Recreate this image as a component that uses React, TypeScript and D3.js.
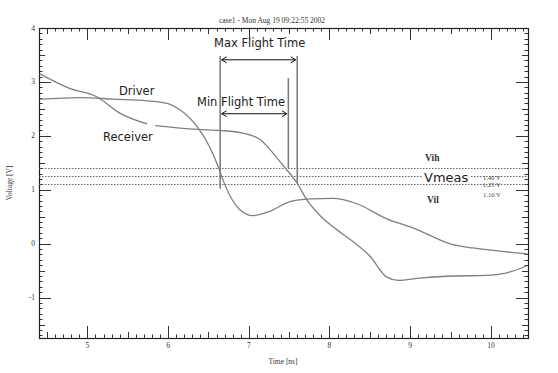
import React, { useRef, useEffect } from "react";
import * as d3 from "d3";

// waveform samples: time [ns], voltage [V]
const driverTime = [4.41, 4.91, 5.32, 5.74, 5.99, 6.15, 6.36, 6.52, 6.62, 6.67, 6.77, 6.89, 7.05, 7.26, 7.51, 7.76, 8.04, 8.34, 8.71, 9.04, 9.53, 9.78, 10.11, 10.45];
const driverVolt = [2.68, 2.71, 2.68, 2.65, 2.6, 2.48, 2.17, 1.78, 1.43, 1.22, 0.88, 0.63, 0.52, 0.6, 0.78, 0.83, 0.84, 0.74, 0.46, 0.29, -0.02, -0.08, -0.14, -0.19];

// null marks the small break in the receiver trace
const receiverTime = [4.41, 4.78, 5.12, 5.4, 5.74, 5.79, 5.84, 6.36, 6.64, 6.93, 7.14, 7.3, 7.42, 7.6, 7.72, 7.91, 8.09, 8.29, 8.5, 8.71, 8.85, 9.12, 9.53, 9.95, 10.2, 10.45];
const receiverVolt = [3.15, 2.88, 2.72, 2.42, 2.22, null, 2.19, 2.12, 2.1, 2.05, 1.93, 1.68, 1.46, 1.12, 0.81, 0.48, 0.26, 0.04, -0.23, -0.62, -0.68, -0.64, -0.6, -0.59, -0.54, -0.41];

// thresholds
const thresholdNames = ["Vih", "Vmeas", "Vil"];
const thresholdVolts = [1.4, 1.25, 1.1];
const thresholdLabels = ["1.40 V", "1.25 V", "1.10 V"];

// flight time markers [ns]
const flightStart = 6.645;
const minFlightEnd = 7.49;
const maxFlightEnd = 7.6;

const xTicks = [5, 6, 7, 8, 9, 10];
const yTicks = [-1, 0, 1, 2, 3, 4];

const W = 558;
const H = 373;
const serif = "'Liberation Serif', 'DejaVu Serif', serif";
const sans = "'DejaVu Sans', Verdana, sans-serif";

const Chart = () => {
  const svgRef = useRef(null);

  useEffect(() => {
    const svg = d3.select(svgRef.current);
    svg.selectAll("*").remove();

    const left = 39, right = 528, top = 28, bottom = 338;
    const x = d3.scaleLinear().domain([4.4, 10.46]).range([left, right]);
    const y = d3.scaleLinear().domain([-1.75, 4]).range([bottom, top]);

    svg.append("rect").attr("width", W).attr("height", H).attr("fill", "white");

    // minor / half / major ticks on all four sides, pointing inward
    const tickLen = (v) => {
      const r = Math.round(v * 10);
      if (r % 10 === 0) return 12;
      if (r % 5 === 0) return 6;
      return 3.5;
    };
    const xMinor = d3.range(44, 105).map((d) => d / 10);
    const yMinor = d3.range(-17, 41).map((d) => d / 10);
    const ticks = svg.append("g").attr("stroke", "#333").attr("stroke-width", 1);
    xMinor.forEach((v) => {
      const px = Math.round(x(v)) + 0.5;
      ticks.append("line").attr("x1", px).attr("x2", px).attr("y1", bottom + 0.5).attr("y2", bottom - tickLen(v));
      ticks.append("line").attr("x1", px).attr("x2", px).attr("y1", top + 0.5).attr("y2", top + tickLen(v));
    });
    yMinor.forEach((v) => {
      const py = Math.round(y(v)) + 0.5;
      ticks.append("line").attr("y1", py).attr("y2", py).attr("x1", left + 0.5).attr("x2", left + tickLen(v));
      ticks.append("line").attr("y1", py).attr("y2", py).attr("x1", right + 0.5).attr("x2", right - tickLen(v));
    });

    // frame
    svg
      .append("rect")
      .attr("x", left + 0.5)
      .attr("y", top + 0.5)
      .attr("width", right - left)
      .attr("height", bottom - top)
      .attr("fill", "none")
      .attr("stroke", "#222")
      .attr("stroke-width", 1.2);

    // tick labels
    svg
      .append("g")
      .selectAll("text")
      .data(xTicks)
      .join("text")
      .attr("x", (d) => x(d))
      .attr("y", 348)
      .attr("text-anchor", "middle")
      .style("font", `7.5px ${serif}`)
      .style("fill", "#333")
      .text((d) => d);
    svg
      .append("g")
      .selectAll("text")
      .data(yTicks)
      .join("text")
      .attr("x", 35)
      .attr("y", (d) => y(d) + 2.5)
      .attr("text-anchor", "end")
      .style("font", `7.5px ${serif}`)
      .style("fill", "#333")
      .text((d) => d);

    // title and axis labels
    svg
      .append("text")
      .attr("x", 272)
      .attr("y", 23)
      .attr("text-anchor", "middle")
      .style("font", `7.5px ${serif}`)
      .style("fill", "#333")
      .text("case1 - Mon Aug 19 09:22:55 2002");
    svg
      .append("text")
      .attr("x", 283)
      .attr("y", 364)
      .attr("text-anchor", "middle")
      .style("font", `7.5px ${serif}`)
      .style("fill", "#333")
      .text("Time [ns]");
    svg
      .append("text")
      .attr("transform", `translate(12, 183) rotate(-90)`)
      .attr("text-anchor", "middle")
      .style("font", `7.5px ${serif}`)
      .style("fill", "#333")
      .text("Voltage [V]");

    // threshold lines
    thresholdVolts.forEach((v) => {
      svg
        .append("line")
        .attr("x1", left)
        .attr("x2", right)
        .attr("y1", Math.round(y(v)) + 0.5)
        .attr("y2", Math.round(y(v)) + 0.5)
        .attr("stroke", "#555")
        .attr("stroke-width", 0.9)
        .attr("stroke-dasharray", "1.5,1.5");
    });

    // waveforms
    const line = d3
      .line()
      .defined((d) => d[1] !== null)
      .x((d) => x(d[0]))
      .y((d) => y(d[1]))
      .curve(d3.curveMonotoneX);
    [
      d3.zip(driverTime, driverVolt),
      d3.zip(receiverTime, receiverVolt),
    ].forEach((pts) => {
      svg
        .append("path")
        .datum(pts)
        .attr("fill", "none")
        .attr("stroke", "#808080")
        .attr("stroke-width", 1.3)
        .attr("d", line);
    });

    // flight time markers
    const vline = (t, v0, v1) =>
      svg
        .append("line")
        .attr("x1", x(t))
        .attr("x2", x(t))
        .attr("y1", y(v0))
        .attr("y2", y(v1))
        .attr("stroke", "#777")
        .attr("stroke-width", 1.5);
    vline(flightStart, 3.48, 1.02);
    vline(maxFlightEnd, 3.48, 1.12);
    vline(minFlightEnd, 3.07, 1.4);

    const arrow = (t0, t1, v) => {
      const g = svg.append("g").attr("stroke", "#111").attr("stroke-width", 1).attr("fill", "none");
      const py = y(v);
      const x0 = x(t0) + 1.5;
      const x1 = x(t1) - 1.5;
      g.append("line").attr("x1", x0).attr("x2", x1).attr("y1", py).attr("y2", py);
      g.append("path").attr("d", `M${x0 + 5},${py - 3} L${x0},${py} L${x0 + 5},${py + 3}`);
      g.append("path").attr("d", `M${x1 - 5},${py - 3} L${x1},${py} L${x1 - 5},${py + 3}`);
    };
    arrow(flightStart, maxFlightEnd, 3.41);
    arrow(flightStart, minFlightEnd, 2.41);

    const label = (txt, px, py, size) =>
      svg
        .append("text")
        .attr("x", px)
        .attr("y", py)
        .style("font", `${size}px ${sans}`)
        .style("fill", "#222")
        .text(txt);
    label("Max Flight Time", 214, 47, 11.5);
    label("Min Flight Time", 197, 106, 11.5);
    label("Driver", 119, 95, 11.5);
    label("Receiver", 103, 141, 11.5);

    // threshold names and values
    svg.append("rect").attr("x", 422).attr("y", 171).attr("width", 48).attr("height", 13).attr("fill", "white");
    label(thresholdNames[1], 424, 182, 13);
    svg
      .append("text")
      .attr("x", 425)
      .attr("y", 161)
      .style("font", `bold 9.5px ${serif}`)
      .style("fill", "#333")
      .text(thresholdNames[0]);
    svg
      .append("text")
      .attr("x", 427)
      .attr("y", 203)
      .style("font", `bold 9.5px ${serif}`)
      .style("fill", "#333")
      .text(thresholdNames[2]);
    svg
      .append("g")
      .selectAll("text")
      .data(thresholdLabels)
      .join("text")
      .attr("x", 483)
      .attr("y", (d, i) => [180, 186.5, 197][i])
      .style("font", `6.5px ${serif}`)
      .style("fill", "#444")
      .text((d) => d);
  }, []);

  return <svg ref={svgRef} width={W} height={H} style={{ position: "fixed", left: 0, top: 0 }} />;
};

export default function App() {
  return <Chart />;
}
